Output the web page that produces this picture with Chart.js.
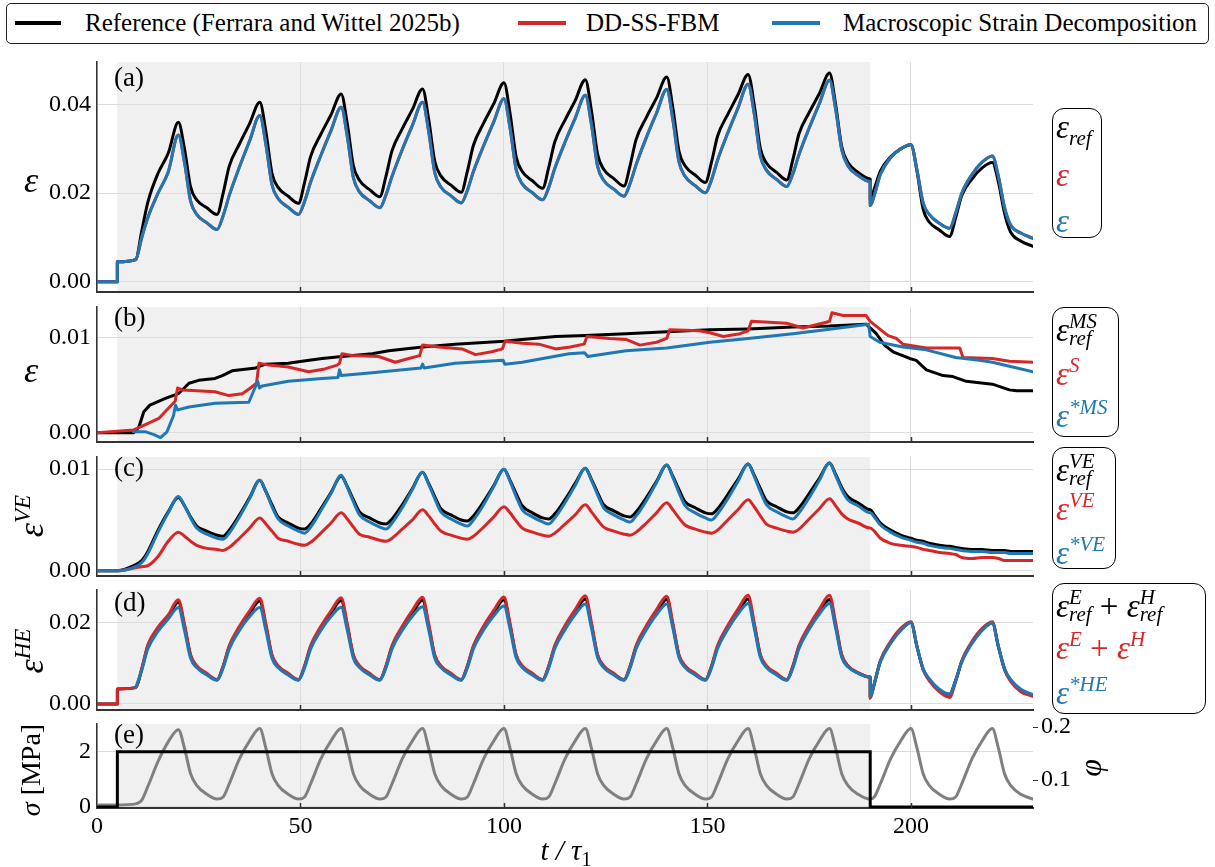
<!DOCTYPE html>
<html>
<head>
<meta charset="utf-8">
<script src="https://cdn.jsdelivr.net/npm/chart.js@4.4.1/dist/chart.umd.min.js"></script>
<style>
  html,body{margin:0;padding:0;background:#fff;}
  body{width:1215px;height:867px;position:relative;overflow:hidden;font-family:"Liberation Serif","DejaVu Serif",serif;color:#000;}
  canvas{position:absolute;left:0;}
  .t{position:absolute;white-space:nowrap;line-height:1;}
  .m{font-style:italic;}
  .c{transform:translate(-50%,-50%);}
  .rot{transform:translate(-50%,-50%) rotate(-90deg);}
  .legend{position:absolute;left:6px;top:3px;width:1203px;height:41px;border:1.5px solid #222;border-radius:5px;box-sizing:border-box;}
  .lgl{position:absolute;height:4px;}
  .box{position:absolute;border:1.6px solid #000;border-radius:12px;box-sizing:border-box;}
  .eq{position:absolute;left:3px;font-style:italic;font-size:33px;line-height:1;white-space:nowrap;}
  .sb{font-size:21px;position:relative;top:7px;}
  .sp{font-size:21px;position:relative;top:-13px;}
  .ss{display:inline-flex;flex-direction:column;font-size:21px;line-height:17px;vertical-align:13px;}
  .up{font-style:normal;}
</style>
</head>
<body>

<div class="legend"></div>
<div class="lgl" style="left:15px;top:21px;width:46px;background:#000"></div>
<span class="t" style="left:85px;top:10px;font-size:25px">Reference (Ferrara and Wittel 2025b)</span>
<div class="lgl" style="left:518px;top:21px;width:48px;background:#d62728"></div>
<span class="t" style="left:586px;top:10px;font-size:25px">DD-SS-FBM</span>
<div class="lgl" style="left:772px;top:21px;width:48px;background:#1f77b4"></div>
<span class="t" style="left:843px;top:10px;font-size:25px">Macroscopic Strain Decomposition</span>

<canvas id="pa"></canvas>
<canvas id="pb"></canvas>
<canvas id="pc"></canvas>
<canvas id="pd"></canvas>
<canvas id="pe"></canvas>

<!-- panel letters -->
<span class="t" style="left:114px;top:64px;font-size:27px">(a)</span>
<span class="t" style="left:114px;top:304px;font-size:27px">(b)</span>
<span class="t" style="left:114px;top:454px;font-size:27px">(c)</span>
<span class="t" style="left:114px;top:589px;font-size:27px">(d)</span>
<span class="t" style="left:114px;top:721px;font-size:27px">(e)</span>

<!-- axis titles -->
<span class="t m c" style="left:31px;top:180px;font-size:36px">ε</span>
<span class="t m c" style="left:31px;top:370px;font-size:36px">ε</span>
<span class="t m rot" style="left:31px;top:516px;font-size:36px">ε<span class="sp" style="font-size:23px">VE</span></span>
<span class="t m rot" style="left:31px;top:651px;font-size:36px">ε<span class="sp" style="font-size:23px">HE</span></span>
<span class="t rot" style="left:31px;top:770px;font-size:28px"><span class="m">σ</span> [MPa]</span>
<span class="t m rot" style="left:1090px;top:768px;font-size:32px">φ</span>
<span class="t m c" style="left:566px;top:850px;font-size:29px">t / τ<span class="up" style="font-size:20px;position:relative;top:6px">1</span></span>

<!-- series keys beside each panel -->
<div class="box" style="left:1052px;top:108px;width:50px;height:130px;">
  <div class="eq" style="top:2px;color:#000">ε<span class="sb">ref</span></div>
  <div class="eq" style="top:50px;color:#d62728">ε</div>
  <div class="eq" style="top:96px;color:#1f77b4">ε</div>
</div>
<div class="box" style="left:1052px;top:307px;width:67px;height:130px;">
  <div class="eq" style="top:5px;color:#000">ε<span class="ss"><span>MS</span><span>ref</span></span></div>
  <div class="eq" style="top:50px;color:#d62728">ε<span class="sp">S</span></div>
  <div class="eq" style="top:92px;color:#1f77b4">ε<span class="sp">*MS</span></div>
</div>
<div class="box" style="left:1052px;top:447px;width:64px;height:122px;">
  <div class="eq" style="top:5px;color:#000">ε<span class="ss"><span>VE</span><span>ref</span></span></div>
  <div class="eq" style="top:45px;color:#d62728">ε<span class="sp">VE</span></div>
  <div class="eq" style="top:89px;color:#1f77b4">ε<span class="sp">*VE</span></div>
</div>
<div class="box" style="left:1052px;top:583px;width:154px;height:131px;">
  <div class="eq" style="top:5px;color:#000">ε<span class="ss"><span>E</span><span>ref</span></span><span class="up"> + </span>ε<span class="ss"><span>H</span><span>ref</span></span></div>
  <div class="eq" style="top:48px;color:#d62728">ε<span class="sp">E</span><span class="up"> + </span>ε<span class="sp">H</span></div>
  <div class="eq" style="top:93px;color:#1f77b4">ε<span class="sp">*HE</span></div>
</div>

<script>
// ---- time grid shared by the cyclic series (t / tau_1) ----
const T = [0,5,5,9.5,11,12.5,15,17.5,20,
  21.5,23,24.5,27,29.5,31,32.5,35,37.5,40,
  41.5,43,44.5,47,49.5,51,52.5,55,57.5,60,
  61.5,63,64.5,67,69.5,71,72.5,75,77.5,80,
  81.5,83,84.5,87,89.5,91,92.5,95,97.5,100,
  101.5,103,104.5,107,109.5,111,112.5,115,117.5,120,
  121.5,123,124.5,127,129.5,131,132.5,135,137.5,140,
  141.5,143,144.5,147,149.5,151,152.5,155,157.5,160,
  161.5,163,164.5,167,169.5,171,172.5,175,177.5,180,
  181.5,183,184.5,187,190,190,191,192.5,195,197.5,200,
  201.5,203,204.5,207,209.5,211,212.5,215,217.5,220,
  221.5,223,224.5,227,230];

// (a) total strain
const refA = [0,0,0.0045,0.005,0.0115,0.018,0.0245,0.029,0.036,
  0.030,0.0214,0.0185,0.0167,0.0152,0.020,0.0261,0.0311,0.0357,0.0405,
  0.0339,0.0245,0.0213,0.0193,0.0177,0.0224,0.0283,0.0333,0.0377,0.0424,
  0.0357,0.0262,0.0229,0.0208,0.0192,0.0238,0.0296,0.0345,0.0389,0.0435,
  0.0367,0.0272,0.0239,0.0218,0.0202,0.0249,0.0308,0.0358,0.0402,0.0449,
  0.038,0.0282,0.0249,0.0228,0.0211,0.0258,0.0316,0.0365,0.0409,0.0456,
  0.0386,0.0288,0.0254,0.0233,0.0216,0.0263,0.0322,0.0371,0.0415,0.0462,
  0.0393,0.0295,0.0262,0.0241,0.0224,0.027,0.0329,0.0378,0.0422,0.0468,
  0.0399,0.0301,0.0268,0.0247,0.023,0.0276,0.0334,0.0382,0.0425,0.0471,
  0.040,0.0305,0.027,0.0247,0.0232,0.0185,0.021,0.025,0.0282,0.030,0.0309,
  0.0249,0.0164,0.0135,0.0117,0.0102,0.0145,0.0195,0.0232,0.0257,0.0269,
  0.0225,0.0155,0.0112,0.0092,0.008];
const macroA = [0,0,0.0045,0.005,0.010,0.0145,0.020,0.0248,0.0331,
  0.0269,0.0182,0.0152,0.0133,0.0118,0.0149,0.0195,0.0259,0.0318,0.0375,
  0.031,0.0219,0.0188,0.0168,0.0152,0.0181,0.0225,0.0285,0.0341,0.0394,
  0.0328,0.0235,0.0203,0.0183,0.0167,0.0196,0.0238,0.0298,0.0353,0.0405,
  0.0339,0.0246,0.0214,0.0194,0.0178,0.0206,0.0249,0.0307,0.0361,0.0413,
  0.0347,0.0253,0.0221,0.0201,0.0185,0.0213,0.0256,0.0315,0.0369,0.0421,
  0.0355,0.0261,0.0229,0.0209,0.0193,0.0222,0.0265,0.0326,0.0381,0.0434,
  0.0366,0.0271,0.0238,0.0217,0.0201,0.023,0.0275,0.0336,0.0392,0.0446,
  0.0379,0.0284,0.0252,0.0231,0.0215,0.0244,0.0287,0.0347,0.0402,0.0455,
  0.039,0.0298,0.0262,0.024,0.0226,0.0172,0.0195,0.0242,0.028,0.030,0.031,
  0.0252,0.0178,0.0152,0.0132,0.0121,0.0155,0.020,0.0242,0.027,0.0284,
  0.0238,0.0168,0.0128,0.011,0.0098];
const fbmA = macroA;

// (c) viscoelastic strain
const refVE = [0,0,0,0.0006,0.001,0.0019,0.004,0.0058,0.0072,
  0.0064,0.0053,0.0044,0.0039,0.0035,0.0034,0.004,0.0055,0.0072,0.0089,
  0.0078,0.0065,0.0053,0.0047,0.0042,0.0041,0.0046,0.0061,0.0077,0.0093,
  0.0083,0.007,0.0058,0.0052,0.0047,0.0046,0.0051,0.0065,0.0081,0.0097,
  0.0086,0.0073,0.0061,0.0055,0.005,0.0049,0.0054,0.0068,0.0084,0.01,
  0.0089,0.0076,0.0064,0.0057,0.0052,0.0051,0.0056,0.007,0.0086,0.0101,
  0.009,0.0077,0.0065,0.0059,0.0054,0.0053,0.0058,0.0072,0.0088,0.0104,
  0.0093,0.008,0.0068,0.0062,0.0057,0.0056,0.0061,0.0075,0.009,0.0105,
  0.0094,0.0081,0.0069,0.0063,0.0058,0.0057,0.0062,0.0076,0.0091,0.0106,
  0.0095,0.0082,0.0073,0.0067,0.006,0.006,0.0055,0.0047,0.004,0.0035,0.0032,
  0.003,0.0029,0.0027,0.0025,0.0024,0.0023,0.0022,0.0021,0.0021,0.002,
  0.002,0.002,0.0019,0.0019,0.0019];
const fbmVE = [0,0,0,0.0003,0.0004,0.0005,0.0014,0.0029,0.0038,
  0.0034,0.0029,0.0025,0.0022,0.0021,0.002,0.0023,0.0032,0.0042,0.0052,
  0.0046,0.0039,0.0032,0.0029,0.0026,0.0025,0.0028,0.0037,0.0047,0.0057,
  0.0051,0.0043,0.0036,0.0033,0.003,0.0029,0.0032,0.0041,0.005,0.006,
  0.0054,0.0046,0.0039,0.0035,0.0032,0.0031,0.0034,0.0043,0.0053,0.0063,
  0.0057,0.0049,0.0042,0.0038,0.0035,0.0034,0.0037,0.0046,0.0055,0.0065,
  0.0058,0.005,0.0043,0.0039,0.0036,0.0035,0.0038,0.0047,0.0057,0.0067,
  0.006,0.0052,0.0045,0.0041,0.0038,0.0037,0.004,0.005,0.006,0.007,
  0.0063,0.0054,0.0046,0.0042,0.0039,0.0038,0.0041,0.0051,0.0061,0.0071,
  0.0064,0.0056,0.0051,0.0047,0.0042,0.0042,0.0039,0.0032,0.0027,0.0025,0.0024,
  0.0023,0.0021,0.002,0.0018,0.0017,0.0016,0.0013,0.0012,0.0013,0.0013,
  0.0012,0.001,0.001,0.001,0.001];
const macroVE = [0,0,0,0.0004,0.0008,0.0017,0.0038,0.0057,0.0073,
  0.0064,0.0052,0.0042,0.0036,0.0032,0.0031,0.0037,0.0053,0.0071,0.0089,
  0.0078,0.0063,0.0051,0.0044,0.0039,0.0037,0.0043,0.0059,0.0076,0.0094,
  0.0082,0.0068,0.0055,0.0048,0.0043,0.0041,0.0047,0.0062,0.008,0.0097,
  0.0085,0.0071,0.0058,0.0051,0.0046,0.0044,0.005,0.0065,0.0083,0.01,
  0.0088,0.0073,0.006,0.0053,0.0048,0.0046,0.0052,0.0067,0.0084,0.0101,
  0.0089,0.0075,0.0062,0.0055,0.005,0.0048,0.0054,0.0069,0.0087,0.0104,
  0.0092,0.0077,0.0064,0.0057,0.0052,0.005,0.0056,0.0071,0.0088,0.0105,
  0.0093,0.0078,0.0065,0.0058,0.0053,0.0051,0.0057,0.0072,0.0089,0.0106,
  0.0094,0.008,0.007,0.0064,0.0057,0.0057,0.0053,0.0045,0.0038,0.0033,0.003,
  0.0028,0.0027,0.0025,0.0023,0.0022,0.0021,0.002,0.0019,0.0019,0.0018,
  0.0018,0.0018,0.0017,0.0017,0.0017];

// (d) elastic + hygro-expansive strain
const refHE = [0,0,0.0037,0.004,0.0085,0.0142,0.0184,0.0213,0.0249,
  0.019,0.0118,0.0092,0.0073,0.0059,0.0092,0.014,0.0186,0.0222,0.0252,
  0.019,0.0118,0.0092,0.0073,0.0059,0.0092,0.014,0.0186,0.0222,0.0253,
  0.0191,0.0118,0.0092,0.0073,0.0059,0.0092,0.014,0.0186,0.0222,0.0254,
  0.0191,0.0118,0.0092,0.0073,0.0059,0.0092,0.014,0.0186,0.0223,0.0255,
  0.0192,0.0118,0.0092,0.0073,0.0059,0.0092,0.014,0.0187,0.0224,0.0257,
  0.0193,0.0119,0.0092,0.0073,0.0059,0.0092,0.014,0.0187,0.0224,0.0256,
  0.0192,0.0119,0.0092,0.0073,0.0059,0.0092,0.014,0.0187,0.0224,0.0257,
  0.0193,0.0119,0.0092,0.0073,0.0059,0.0092,0.014,0.0187,0.0224,0.0256,
  0.0192,0.0119,0.0093,0.0076,0.0066,0.0018,0.005,0.0105,0.015,0.0182,0.020,
  0.014,0.0085,0.006,0.0033,0.0024,0.0058,0.0104,0.015,0.0182,0.0199,
  0.014,0.0085,0.0058,0.0034,0.0022];
const fbmHE = [0,0,0.0037,0.004,0.0087,0.0145,0.0188,0.0218,0.0255,
  0.0195,0.012,0.0094,0.0075,0.006,0.0093,0.0143,0.019,0.0228,0.0259,
  0.0196,0.012,0.0094,0.0075,0.006,0.0093,0.0143,0.019,0.0228,0.026,
  0.0196,0.012,0.0094,0.0075,0.006,0.0093,0.0143,0.019,0.0229,0.0261,
  0.0197,0.012,0.0094,0.0075,0.006,0.0093,0.0143,0.0191,0.0229,0.0262,
  0.0197,0.012,0.0094,0.0075,0.006,0.0093,0.0144,0.0192,0.0231,0.0265,
  0.0199,0.0121,0.0094,0.0075,0.006,0.0093,0.0144,0.0192,0.0231,0.0264,
  0.0198,0.0121,0.0094,0.0075,0.006,0.0093,0.0144,0.0192,0.0232,0.0266,
  0.0199,0.0121,0.0094,0.0075,0.006,0.0093,0.0144,0.0192,0.0232,0.0266,
  0.0199,0.0121,0.0094,0.0077,0.0065,0.0014,0.0048,0.0106,0.0153,0.0185,0.0201,
  0.0141,0.0084,0.0057,0.003,0.0016,0.0055,0.0106,0.0153,0.0185,0.0201,
  0.0141,0.0084,0.0055,0.003,0.0019];
const macroHE = [null,null,null,0.004,0.0083,0.0135,0.0178,0.0208,0.0236,
  0.018,0.0112,0.0089,0.0071,0.0058,0.0088,0.0135,0.018,0.0214,0.0236,
  0.018,0.0112,0.0089,0.0071,0.0058,0.0088,0.0135,0.018,0.0214,0.0237,
  0.0181,0.0112,0.0089,0.0071,0.0058,0.0088,0.0135,0.018,0.0215,0.0238,
  0.0182,0.0112,0.0089,0.0071,0.0058,0.0088,0.0135,0.0181,0.0216,0.024,
  0.0183,0.0113,0.0089,0.0071,0.0058,0.0088,0.0136,0.0182,0.0219,0.0245,
  0.0186,0.0114,0.0089,0.0071,0.0058,0.0088,0.0136,0.0182,0.0219,0.0245,
  0.0186,0.0114,0.0089,0.0071,0.0058,0.0088,0.0136,0.0183,0.022,0.0246,
  0.0186,0.0114,0.0089,0.0071,0.0058,0.0088,0.0136,0.0183,0.022,0.0246,
  0.0186,0.0114,0.0091,0.0075,0.0066,0.0018,0.005,0.0103,0.0148,0.018,0.0199,
  0.014,0.0086,0.0062,0.0036,0.0024,0.0058,0.0103,0.0148,0.018,0.0198,
  0.0141,0.0087,0.006,0.0036,0.0023];

// (e) moisture content and applied stress
const phi = [0.053,0.053,0.053,0.055,0.062,0.088,0.135,0.172,0.195,
  0.160,0.112,0.090,0.073,0.064,0.068,0.093,0.140,0.174,0.197,
  0.160,0.112,0.090,0.073,0.064,0.068,0.093,0.140,0.174,0.197,
  0.160,0.112,0.090,0.073,0.064,0.068,0.093,0.140,0.174,0.197,
  0.160,0.112,0.090,0.073,0.064,0.068,0.093,0.140,0.174,0.197,
  0.160,0.112,0.090,0.073,0.064,0.068,0.093,0.140,0.174,0.197,
  0.160,0.112,0.090,0.073,0.064,0.068,0.093,0.140,0.174,0.197,
  0.160,0.112,0.090,0.073,0.064,0.068,0.093,0.140,0.174,0.197,
  0.160,0.112,0.090,0.073,0.064,0.068,0.093,0.140,0.174,0.197,
  0.160,0.112,0.090,0.073,0.064,0.064,0.068,0.093,0.140,0.174,0.197,
  0.160,0.112,0.090,0.073,0.064,0.068,0.093,0.140,0.174,0.197,
  0.160,0.112,0.090,0.073,0.064];
const tStress = [0,5,5,190,190,230];
const stress  = [0,0,2,2,0,0];

// (b) mechano-sorptive strain, [t, value] pairs
const msRef = [[0,0],[9,0],[10.3,0.0006],[11.5,0.0022],[13,0.0029],[16.8,0.0036],[20,0.0041],
  [22.6,0.0052],[25,0.0055],[29,0.0057],[30.8,0.006],[33.2,0.0065],[39,0.0068],[41.4,0.0072],
  [47,0.0073],[50.4,0.0075],[55.3,0.0078],[60.2,0.008],[67.6,0.0083],[71.7,0.0086],[80,0.009],
  [88,0.0093],[100,0.0096],[104.5,0.0098],[112.7,0.0101],[120,0.0102],[130,0.0104],[140,0.0106],
  [150.6,0.0108],[160,0.0109],[171,0.0111],[180,0.0112],[189,0.0114],[191.5,0.0104],[193.5,0.0092],
  [195.6,0.0085],[199.7,0.0078],[201.3,0.0076],[203.8,0.0066],[207.9,0.006],[210.3,0.0059],
  [213.6,0.0054],[220,0.0051],[224.2,0.0045],[226,0.0044],[230,0.0044]];
const msFbm = [[0,0],[9,0.0003],[12.7,0.001],[15.2,0.0015],[17.6,0.0026],[19.2,0.0033],[19.8,0.0047],
  [21,0.0045],[29,0.0043],[32.4,0.0039],[35.7,0.0041],[37.7,0.0047],[39.2,0.0052],[39.8,0.0073],
  [42.2,0.0071],[47,0.0069],[52,0.0064],[56,0.0067],[59,0.0071],[59.6,0.0073],[60.2,0.0083],
  [62.7,0.0081],[69.2,0.008],[73.3,0.0074],[76.6,0.0078],[79.3,0.0081],[80,0.0092],[84,0.009],
  [89.7,0.0088],[93,0.0082],[97,0.0085],[99.6,0.0088],[100.3,0.0096],[104.5,0.0094],[108.6,0.0093],
  [112.7,0.0088],[116.3,0.009],[119.7,0.0093],[120.4,0.0101],[126,0.0099],[130,0.0098],[133.4,0.0092],
  [137.5,0.0095],[140,0.0099],[140.7,0.0108],[148,0.0107],[150.6,0.0105],[153.9,0.0101],[158,0.0104],
  [160,0.0107],[160.8,0.0117],[169.4,0.0115],[173.5,0.011],[179.2,0.0116],[180,0.0117],[180.6,0.0126],
  [183.3,0.0123],[189,0.0123],[190,0.0117],[192.3,0.0109],[194.4,0.0102],[196.4,0.0099],[198,0.0093],
  [203.8,0.0089],[212,0.0089],[212.8,0.0079],[220,0.0078],[224.2,0.0075],[230,0.0074]];
const msMacro = [[9,0.0001],[12,0.0001],[14,-0.0002],[15.6,-0.0005],[17.2,0.0001],[18.8,0.0018],
  [19.3,0.0029],[19.8,0.0024],[22.6,0.0027],[29,0.0031],[37.3,0.0032],[38.8,0.0047],[39.5,0.0054],
  [39.9,0.0047],[40.6,0.0049],[47,0.0054],[55.3,0.0057],[59.2,0.0058],[59.6,0.0066],[60,0.006],
  [67.6,0.0063],[79.6,0.0068],[80,0.0072],[80.4,0.0068],[88,0.0073],[99.8,0.0076],[100.2,0.0072],
  [104.5,0.0074],[116,0.0083],[119.8,0.0084],[120.6,0.008],[130,0.0086],[140,0.0089],[150.6,0.0095],
  [160,0.0099],[171,0.0104],[180.5,0.0109],[189.6,0.0114],[190,0.0101],[192.3,0.0095],[198,0.009],
  [203.8,0.0087],[211,0.0079],[216.8,0.0076],[220,0.0074],[230,0.0064]];

// axis ticks
const X_TICKS = [0,50,100,150,200];
const TICKS_A = [0,0.02,0.04];
const TICKS_B = [0,0.01];
const TICKS_C = [0,0.01];
const TICKS_D = [0,0.02];
const TICKS_SIGMA = [0,2];
const TICKS_PHI = [0.1,0.2];
const LOAD_ON = 5, LOAD_OFF = 190;

// ---- drawing helpers ----
const SERIF = '"Liberation Serif","DejaVu Serif",serif';
const BLACK = '#000000', RED = '#d62728', BLUE = '#1f77b4', GREY = '#808080';
const GRID = '#dcdcdc';
const TICK_FONT = {family: SERIF, size: 24};

const onT = arr => T.map((t, i) => ({x: t, y: arr[i]}));
const fromPairs = arr => arr.map(([x, y]) => ({x, y}));
const fromXY = (xs, ys) => xs.map((x, i) => ({x, y: ys[i]}));

function line(data, color, extra) {
  return Object.assign({
    data, borderColor: color, backgroundColor: color, borderWidth: 3,
    pointRadius: 0, fill: false, cubicInterpolationMode: 'monotone',
    borderJoinStyle: 'round', borderCapStyle: 'round', spanGaps: false
  }, extra || {});
}

// light band for the loaded interval
const loadBand = {
  id: 'loadBand',
  beforeDraw(chart) {
    const {ctx, chartArea: a, scales: {x}} = chart;
    const x0 = x.getPixelForValue(LOAD_ON), x1 = x.getPixelForValue(LOAD_OFF);
    ctx.save();
    ctx.fillStyle = '#f0f0f0';
    ctx.fillRect(x0, a.top, x1 - x0, a.bottom - a.top);
    ctx.restore();
  }
};

// short inward tick marks on the time axis
const innerTicks = {
  id: 'innerTicks',
  afterDraw(chart) {
    const {ctx, chartArea: a, scales: {x}} = chart;
    ctx.save();
    ctx.strokeStyle = '#333';
    ctx.lineWidth = 1.5;
    X_TICKS.forEach(v => {
      if (v === 0) return;
      const px = Math.round(x.getPixelForValue(v)) + 0.5;
      ctx.beginPath(); ctx.moveTo(px, a.bottom); ctx.lineTo(px, a.bottom - 5); ctx.stroke();
    });
    ctx.restore();
  }
};

function fixedTicks(vals) {
  return s => { s.ticks = vals.map(v => ({value: v})); };
}

function xScale(showLabels) {
  return {
    type: 'linear', min: 0, max: 230,
    afterBuildTicks: fixedTicks(X_TICKS),
    grid: {color: GRID, lineWidth: 1, drawTicks: false},
    border: {display: true, color: '#333', width: 2},
    ticks: {display: showLabels, color: '#000', font: TICK_FONT, padding: 4, maxRotation: 0, autoSkip: false},
    afterFit: s => { s.height = showLabels ? 34 : 0; s.paddingLeft = 0; s.paddingRight = 0; }
  };
}

function yScale(min, max, vals, fmt, extra) {
  return Object.assign({
    type: 'linear', position: 'left', min, max,
    afterBuildTicks: fixedTicks(vals),
    grid: {color: GRID, lineWidth: 1, drawTicks: false},
    border: {display: true, color: '#333', width: 1.5},
    ticks: {color: '#000', font: TICK_FONT, padding: 6, callback: fmt},
    afterFit: s => { s.width = 97; s.paddingTop = 0; s.paddingBottom = 0; }
  }, extra || {});
}

const f2 = v => Number(v).toFixed(2);

function panel(id, plotTop, plotBottom, opts) {
  const cv = document.getElementById(id);
  const padTop = 14, padBottom = opts.xLabels ? 0 : 8;
  const xH = opts.xLabels ? 34 : 0;
  const H = (plotBottom - plotTop) + padTop + padBottom + xH;
  cv.width = 1215; cv.height = H;
  cv.style.width = '1215px'; cv.style.height = H + 'px';
  cv.style.top = (plotTop - padTop) + 'px';
  return new Chart(cv, {
    type: 'line',
    data: {datasets: opts.datasets},
    options: {
      responsive: false, animation: false, devicePixelRatio: 1,
      layout: {padding: {top: padTop, bottom: padBottom, left: 0, right: opts.rightAxis ? 0 : 182}},
      plugins: {legend: {display: false}, tooltip: {enabled: false}},
      scales: Object.assign({x: xScale(!!opts.xLabels)}, opts.scales)
    },
    plugins: [loadBand, innerTicks]
  });
}

// (a)
panel('pa', 62, 292, {
  scales: {y: yScale(-0.0023, 0.0496, TICKS_A, f2)},
  datasets: [line(onT(macroA), BLUE), line(onT(fbmA), RED), line(onT(refA), BLACK)]
});
// (b)
panel('pb', 307, 442, {
  scales: {y: yScale(-0.00097, 0.0132, TICKS_B, f2)},
  datasets: [
    line(fromPairs(msMacro), BLUE, {cubicInterpolationMode: 'default', tension: 0}),
    line(fromPairs(msFbm), RED, {cubicInterpolationMode: 'default', tension: 0}),
    line(fromPairs(msRef), BLACK, {cubicInterpolationMode: 'default', tension: 0})
  ]
});
// (c)
panel('pc', 457, 576, {
  scales: {y: yScale(-0.00052, 0.0112, TICKS_C, f2)},
  datasets: [line(onT(macroVE), BLUE), line(onT(fbmVE), RED), line(onT(refVE), BLACK)]
});
// (d)
panel('pd', 590, 710, {
  scales: {y: yScale(-0.00147, 0.0279, TICKS_D, f2)},
  datasets: [line(onT(macroHE), BLUE), line(onT(fbmHE), RED), line(onT(refHE), BLACK)]
});
// (e)
panel('pe', 724, 808, {
  xLabels: true, rightAxis: true,
  scales: {
    y: yScale(-0.04, 3.0, TICKS_SIGMA, v => String(v)),
    phi: {
      type: 'linear', position: 'right', min: 0.0472, max: 0.2057,
      afterBuildTicks: fixedTicks(TICKS_PHI),
      grid: {drawOnChartArea: false, drawTicks: true, tickLength: 5, color: '#333'},
      border: {display: false},
      ticks: {color: '#000', font: TICK_FONT, padding: 3, callback: v => Number(v).toFixed(1)},
      afterFit: s => { s.width = 182; s.paddingTop = 0; s.paddingBottom = 0; }
    }
  },
  datasets: [
    line(fromXY(tStress, stress), BLACK, {cubicInterpolationMode: 'default', tension: 0, yAxisID: 'y', borderJoinStyle: 'miter', borderCapStyle: 'butt'}),
    line(onT(phi), GREY, {yAxisID: 'phi'})
  ]
});
</script>
</body>
</html>
